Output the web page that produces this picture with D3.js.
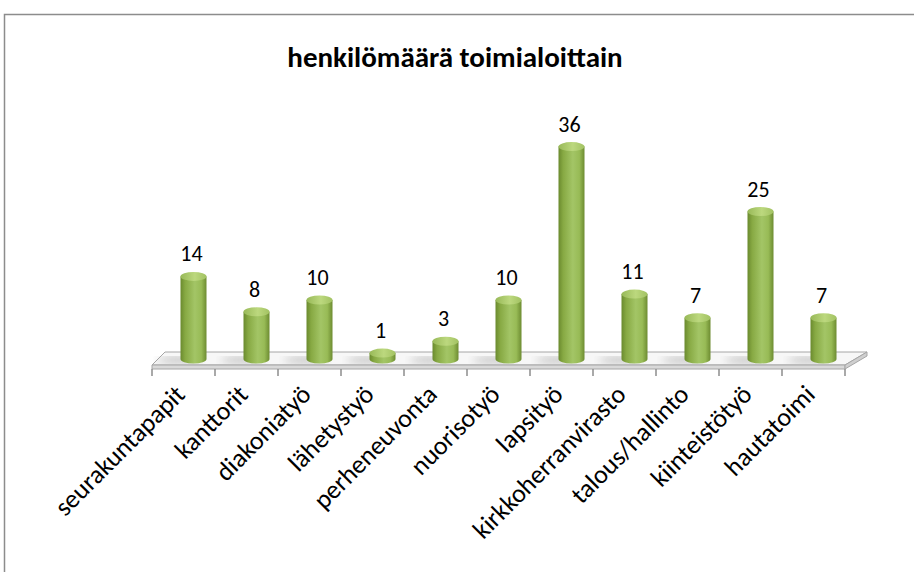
<!DOCTYPE html>
<html lang="fi">
<head>
	<meta charset="utf-8">
	<title>henkilömäärä toimialoittain</title>
	<script src="https://d3js.org/d3.v7.min.js"></script>
	<style>
		body { margin: 0; background: #fff; }
		text { font-family: Carlito, Calibri, Lato, sans-serif; }
	</style>
</head>
<body>
	<div id="chart"></div>
	<script>
		// data
		var categories = ["seurakuntapapit", "kanttorit", "diakoniatyö", "lähetystyö", "perheneuvonta",
			"nuorisotyö", "lapsityö", "kirkkoherranvirasto", "talous/hallinto", "kiinteistötyö", "hautatoimi"];
		var values = [14, 8, 10, 1, 3, 10, 36, 11, 7, 25, 7];
		var chartTitle = "henkilömäärä toimialoittain";

		var width = 914;
		var height = 572;

		var svg = d3.select("#chart").append("svg")
			.attr("width", width)
			.attr("height", height);

		// gradients for cylinders
		var defs = svg.append("defs");
		var bodyGrad = defs.append("linearGradient")
			.attr("id", "cylBody")
			.attr("x1", "0%").attr("x2", "100%").attr("y1", "0%").attr("y2", "0%");
		bodyGrad.selectAll("stop")
			.data([
				{offset: "0%", color: "#6a8a2e"},
				{offset: "18%", color: "#87a943"},
				{offset: "55%", color: "#a3c566"},
				{offset: "80%", color: "#98bb56"},
				{offset: "100%", color: "#6d8c31"}
			])
			.enter().append("stop")
			.attr("offset", function(d) { return d.offset; })
			.attr("stop-color", function(d) { return d.color; });
		var topGrad = defs.append("linearGradient")
			.attr("id", "cylTop")
			.attr("x1", "0%").attr("x2", "100%").attr("y1", "0%").attr("y2", "0%");
		topGrad.selectAll("stop")
			.data([
				{offset: "0%", color: "#98b958"},
				{offset: "55%", color: "#bcd87e"},
				{offset: "100%", color: "#a2c262"}
			])
			.enter().append("stop")
			.attr("offset", function(d) { return d.offset; })
			.attr("stop-color", function(d) { return d.color; });
		defs.append("filter")
			.attr("id", "blur")
			.append("feGaussianBlur")
			.attr("stdDeviation", 4);

		// outer frame
		svg.append("rect")
			.attr("x", 4.5).attr("y", 14.5)
			.attr("width", 1000).attr("height", 1000)
			.attr("fill", "none")
			.attr("stroke", "#8c8c8c")
			.attr("stroke-width", 1.5);

		// title
		svg.append("text")
			.attr("x", 455)
			.attr("y", 67)
			.attr("text-anchor", "middle")
			.attr("font-size", 29)
			.attr("font-weight", "bold")
			.text(chartTitle);

		// scales
		var xScale = d3.scaleBand()
			.domain(categories)
			.range([152, 845]);
		var yScale = d3.scaleLinear()
			.domain([0, 40])
			.range([359, 123]);

		var frontY = 365, backY = 352;
		var depthL = 13, depthR = 22;
		var x0 = xScale.range()[0], x1 = xScale.range()[1];

		// floor
		var floor = svg.append("g");
		floor.append("path")
			.attr("d", "M" + x0 + "," + frontY + " L" + x1 + "," + frontY +
				" L" + (x1 + depthR) + "," + backY + " L" + (x0 + depthL) + "," + backY + " Z")
			.attr("fill", "#f7f7f7")
			.attr("stroke", "#a6a6a6");
		floor.append("path")
			.attr("d", "M" + x0 + "," + frontY + " L" + x1 + "," + frontY +
				" L" + x1 + "," + (frontY + 4) + " L" + x0 + "," + (frontY + 4) + " Z")
			.attr("fill", "#d9d9d9")
			.attr("stroke", "#a6a6a6");
		floor.append("path")
			.attr("d", "M" + x1 + "," + frontY + " L" + (x1 + depthR) + "," + backY +
				" L" + (x1 + depthR) + "," + (backY + 4) + " L" + x1 + "," + (frontY + 4) + " Z")
			.attr("fill", "#cfcfcf")
			.attr("stroke", "#a6a6a6");

		// ticks
		var tickXs = categories.map(function(c) { return xScale(c); }).concat([x1]);
		svg.append("g").selectAll("line")
			.data(tickXs)
			.enter().append("line")
			.attr("x1", function(d) { return d; })
			.attr("x2", function(d) { return d; })
			.attr("y1", frontY + 4)
			.attr("y2", frontY + 11)
			.attr("stroke", "#8c8c8c")
			.attr("stroke-width", 1.5);

		var rx = 13, ry = 4.5, shift = 10;
		function cx(d, i) { return xScale(categories[i]) + xScale.bandwidth() / 2 + shift; }

		// shadows on the floor
		svg.append("g").selectAll("ellipse")
			.data(values)
			.enter().append("ellipse")
			.attr("cx", function(d, i) { return cx(d, i) - 14; })
			.attr("cy", yScale(0) + 1)
			.attr("rx", 22)
			.attr("ry", 3)
			.attr("fill", "#8a8a8a")
			.attr("opacity", 0.55)
			.attr("filter", "url(#blur)");

		var bars = svg.append("g").selectAll("g.bar")
			.data(values)
			.enter().append("g")
			.attr("class", "bar");

		bars.append("path")
			.attr("d", function(d, i) {
				var x = cx(d, i), top = yScale(d), base = yScale(0);
				return "M" + (x - rx) + "," + top + " L" + (x - rx) + "," + base +
					" A" + rx + "," + ry + " 0 0 0 " + (x + rx) + "," + base +
					" L" + (x + rx) + "," + top + " Z";
			})
			.attr("fill", "url(#cylBody)");
		bars.append("ellipse")
			.attr("cx", function(d, i) { return cx(d, i); })
			.attr("cy", function(d) { return yScale(d); })
			.attr("rx", rx)
			.attr("ry", ry)
			.attr("fill", "url(#cylTop)");

		// value labels
		bars.append("text")
			.attr("x", function(d, i) { return cx(d, i) - 2; })
			.attr("y", function(d) { return yScale(d) - 15; })
			.attr("text-anchor", "middle")
			.attr("font-size", 22)
			.attr("fill", "#000")
			.text(function(d) { return d; });

		// category labels
		svg.append("g").selectAll("text")
			.data(categories)
			.enter().append("text")
			.attr("transform", function(d) {
				return "translate(" + (xScale(d) + xScale.bandwidth() / 2 + 3) + "," + 396 + ") rotate(-45)";
			})
			.attr("text-anchor", "end")
			.attr("font-size", 26)
			.text(function(d) { return d; });
	</script>
</body>
</html>
